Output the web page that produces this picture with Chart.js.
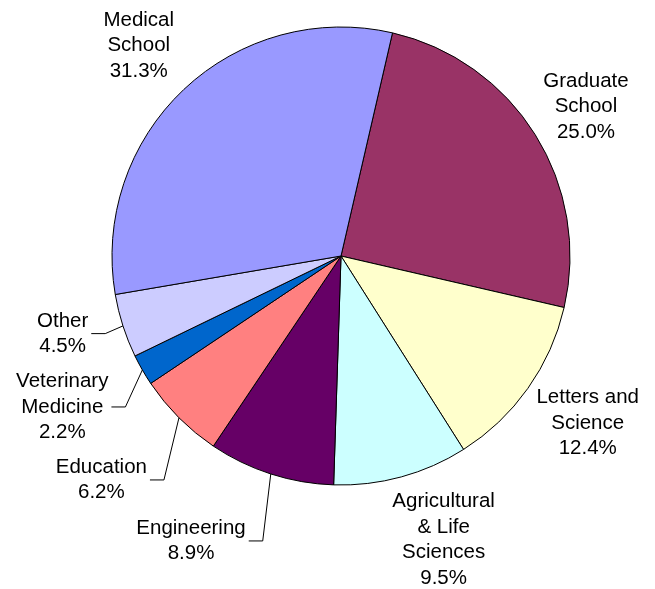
<!DOCTYPE html>
<html>
<head>
<meta charset="utf-8">
<script src="https://cdn.jsdelivr.net/npm/chart.js@4"></script>
<style>
  html, body { margin: 0; padding: 0; background: #fff; }
  #wrap { width: 655px; height: 589px; position: relative; }
</style>
</head>
<body>
<div id="wrap"><canvas id="graficoPizza"></canvas></div>
<script>
// dados: fatias em sentido horário a partir de ~13° do topo
const schools = [
    ['Graduate', 'School'],
    ['Letters and', 'Science'],
    ['Agricultural', '& Life', 'Sciences'],
    ['Engineering'],
    ['Education'],
    ['Veterinary', 'Medicine'],
    ['Other'],
    ['Medical', 'School']
];
const shares = [25.0, 12.4, 9.5, 8.9, 6.2, 2.2, 4.5, 31.3];
const sliceColors = ['#993366', '#FFFFCC', '#CCFFFF', '#660066', '#FF8080', '#0066CC', '#CCCCFF', '#9999FF'];

// posição dos rótulos: desvio angular (graus) e distância ao centro; leader = linha guia
const labelShift = [0.6, -1.2, -4.6, 9.9, 1.9, 1.4, 2.2, -0.5];
const labelDist = [287, 298, 302, 322, 328, 317, 289, 292];
const leader = [false, false, false, true, true, true, true, false];

const FONT = "20.5px 'Liberation Sans', Arial, sans-serif";
const LINE_H = 25.5;

const pieLabels = {
    id: 'pieLabels',
    afterDraw(chart) {
        const ctx = chart.ctx;
        const arcs = chart.getDatasetMeta(0).data;
        ctx.save();
        ctx.font = FONT;
        ctx.fillStyle = '#000';
        ctx.textAlign = 'center';
        ctx.textBaseline = 'middle';
        arcs.forEach((arc, i) => {
            const { x, y, startAngle, endAngle, outerRadius } = arc.getProps(['x', 'y', 'startAngle', 'endAngle', 'outerRadius'], true);
            const mid = (startAngle + endAngle) / 2;
            const a = mid + labelShift[i] * Math.PI / 180;
            const lx = x + Math.cos(a) * labelDist[i];
            const ly = y + Math.sin(a) * labelDist[i];
            const lines = schools[i].concat([shares[i].toFixed(1) + '%']);
            const top = ly - (lines.length - 1) * LINE_H / 2;
            let maxW = 0;
            lines.forEach((t, k) => {
                ctx.fillText(t, lx, top + k * LINE_H);
                maxW = Math.max(maxW, ctx.measureText(t).width);
            });
            if (leader[i]) {
                const sx = lx + maxW / 2 + 3;
                const ex = x + Math.cos(mid) * outerRadius;
                const ey = y + Math.sin(mid) * outerRadius;
                ctx.beginPath();
                ctx.moveTo(sx, ly);
                ctx.lineTo(sx + 14, ly);
                ctx.lineTo(ex, ey);
                ctx.strokeStyle = '#000';
                ctx.lineWidth = 1;
                ctx.stroke();
            }
        });
        ctx.restore();
    }
};

const ctxPizza = document.getElementById('graficoPizza');
new Chart(ctxPizza, {
    type: 'pie',
    data: {
        labels: schools.map(s => s.join(' ')),
        datasets: [{
            data: shares,
            backgroundColor: sliceColors,
            borderColor: '#000',
            borderWidth: 1,
            hoverOffset: 0
        }]
    },
    options: {
        responsive: true,
        maintainAspectRatio: false,
        animation: false,
        rotation: 13,
        radius: 229,
        layout: { padding: { left: 100, right: 73, top: 20, bottom: 97 } },
        plugins: { legend: { display: false }, tooltip: { enabled: false } }
    },
    plugins: [pieLabels]
});
</script>
</body>
</html>
